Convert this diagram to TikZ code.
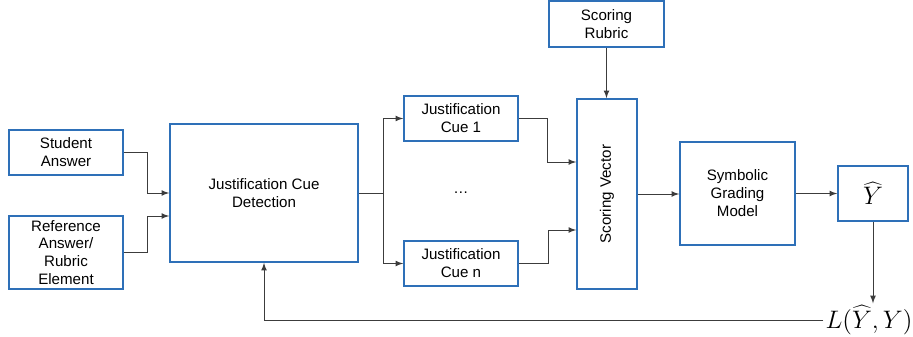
\documentclass[tikz,border=0pt]{standalone}
\usepackage{fontspec}
\setmainfont{Liberation Sans}
\definecolor{boxblue}{RGB}{46,112,184}
\definecolor{wire}{RGB}{60,60,60}
\begin{document}
\begin{tikzpicture}[>=latex,
  blk/.style={draw=boxblue,line width=1pt,align=center,inner sep=1pt,
    font=\fontsize{8.6}{10.2}\selectfont},
  wr/.style={draw=wire,line width=0.5pt}]
\useasboundingbox (0,0) rectangle (18.26,6.72);
\path
(1.32,3.67)  node[blk,minimum width=2.28cm,minimum height=0.9cm]  (SA) {Student\\Answer}
(1.32,1.67)  node[blk,minimum width=2.28cm,minimum height=1.46cm] (RA) {Reference\\Answer/\\Rubric\\Element}
(5.28,2.86)  node[blk,minimum width=3.76cm,minimum height=2.76cm] (JCD) {Justification Cue\\Detection}
(9.22,4.35)  node[blk,minimum width=2.28cm,minimum height=0.9cm]  (C1) {Justification\\Cue 1}
(9.22,2.86)  node[font=\fontsize{8.6}{10.2}\selectfont] (dots) {\dots}
(9.22,1.45)  node[blk,minimum width=2.28cm,minimum height=0.9cm]  (Cn) {Justification\\Cue n}
(12.13,6.24) node[blk,minimum width=2.3cm,minimum height=0.92cm]  (SR) {Scoring\\Rubric}
(12.14,2.84) node[blk,minimum width=1.2cm,minimum height=3.8cm]   (SV) {}
             node[rotate=90,font=\fontsize{8.6}{10.2}\selectfont] {Scoring Vector}
(14.75,2.85) node[blk,minimum width=2.3cm,minimum height=2.06cm]  (SGM) {Symbolic\\Grading\\Model}
(17.46,2.85) node[blk,minimum width=1.4cm,minimum height=1.1cm,font=\fontsize{14}{16}\selectfont] (Yh) {$\widehat{Y}$}
(17.38,0.32) node[font=\fontsize{14}{16}\selectfont,inner sep=1pt] (L) {$L(\widehat{Y},Y)$};
\draw[wr,->] (SA.east) -- ++(0.48,0) |- (JCD.west);
\draw[wr,->] (RA.east) -- ++(0.48,0) |- ([yshift=-4.6mm]JCD.west);
\draw[wr,->] (JCD.east) -- ++(0.5,0) coordinate (split) |- (C1.west);
\draw[wr,->] (split) |- (Cn.west);
\draw[wr,->] (C1.east) -- ++(0.58,0) |- ([yshift=6.4mm]SV.west);
\draw[wr,->] (Cn.east) -- ++(0.6,0) |- ([yshift=-7.2mm]SV.west);
\draw[wr,->] (SR.south) -- (SR.south |- SV.north);
\draw[wr,->] (SV.east) -- (SV.east -| SGM.west);
\draw[wr,->] (SGM.east) -- (SGM.east -| Yh.west);
\draw[wr,->] (Yh.south) -- (Yh.south |- L.north);
\draw[wr,->] (L.west) -| (JCD.south);
\end{tikzpicture}
\end{document}
